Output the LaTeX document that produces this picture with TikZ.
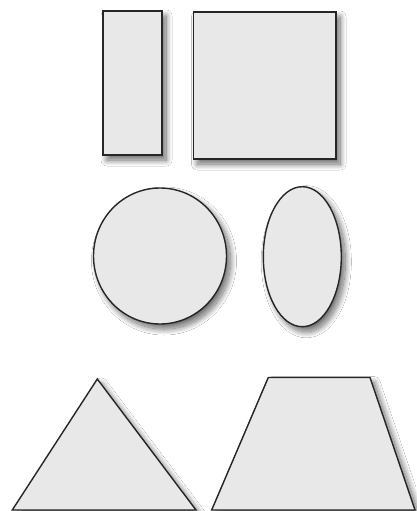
\documentclass[tikz,border=0pt]{standalone}
\usetikzlibrary{shadows.blur}
\definecolor{shapefill}{HTML}{E8E8E8}
\begin{document}
\begin{tikzpicture}[x=1pt,y=-1pt,
  figshape/.style={draw=black!85, line width=1.4pt, fill=shapefill, line join=miter,
    blur shadow={shadow xshift=4pt, shadow yshift=-5pt, shadow blur radius=6pt, shadow blur steps=24, shadow opacity=60}}]
\useasboundingbox (0,0) rectangle (416,511);
\fill[white] (0,0) rectangle (416,511);
\draw[figshape] (103,11) rectangle (162,155);
\draw[figshape] (193.5,12) rectangle (336,159);
\draw[figshape] (160,256) ellipse [x radius=66.5, y radius=68];
\draw[figshape] (302.3,256.7) ellipse [x radius=39, y radius=70];
\draw[figshape] (97.3,379) -- (196,510) -- (12.3,510) -- cycle;
\draw[figshape] (268.3,377.5) -- (370,377.5) -- (415,510) -- (211.7,510) -- cycle;
\end{tikzpicture}
\end{document}
